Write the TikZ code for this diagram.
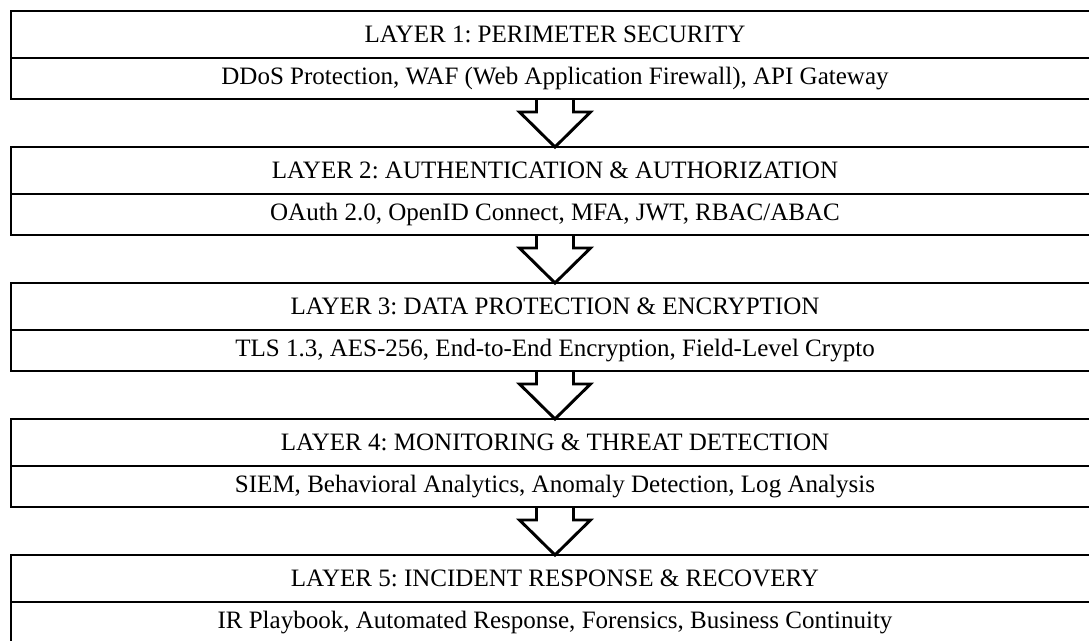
\documentclass[tikz,border=0pt]{standalone}
\usepackage{fontspec}
\setmainfont{Liberation Serif}
\frenchspacing
\usetikzlibrary{positioning, calc}

\begin{document}
\begin{tikzpicture}[
    layertitle/.style={rectangle, draw=black, line width=2.1pt, minimum width=27.2cm, minimum height=1.175cm, inner sep=0pt, outer sep=0pt, font=\fontsize{17.8}{20}\selectfont},
    layerdetail/.style={layertitle, minimum height=1.025cm},
    flowarrow/.style={draw=black, line width=2.1pt, line join=miter}
]
\useasboundingbox (0,0) rectangle (27.225,-16.025);

% Layers
\node[layertitle] (t1) at (13.875, -0.8625) {LAYER 1: PERIMETER SECURITY};
\node[layerdetail, below=0pt of t1] (d1) {DDoS Protection, WAF (Web Application Firewall), API Gateway};

\node[layertitle] (t2) at (13.875, -4.2625) {LAYER 2: AUTHENTICATION \& AUTHORIZATION};
\node[layerdetail, below=0pt of t2] (d2) {OAuth 2.0, OpenID Connect, MFA, JWT, RBAC/ABAC};

\node[layertitle] (t3) at (13.875, -7.6625) {LAYER 3: DATA PROTECTION \& ENCRYPTION};
\node[layerdetail, below=0pt of t3] (d3) {TLS 1.3, AES-256, End-to-End Encryption, Field-Level Crypto};

\node[layertitle] (t4) at (13.875, -11.0625) {LAYER 4: MONITORING \& THREAT DETECTION};
\node[layerdetail, below=0pt of t4] (d4) {SIEM, Behavioral Analytics, Anomaly Detection, Log Analysis};

\node[layertitle] (t5) at (13.875, -14.4625) {LAYER 5: INCIDENT RESPONSE \& RECOVERY};
\node[layerdetail, below=0pt of t5] (d5) {IR Playbook, Automated Response, Forensics, Business Continuity};

% Arrows between layers
\foreach \k/\n in {1/2, 2/3, 3/4, 4/5}
    \draw[flowarrow] ($(d\k.south)+(-0.4625,0)$) -- ++(0,-0.325) -- ++(-0.425,0) -- (t\n.north) -- ++(0.8875,0.875) -- ++(-0.425,0) -- ($(d\k.south)+(0.4625,0)$);

\end{tikzpicture}
\end{document}
